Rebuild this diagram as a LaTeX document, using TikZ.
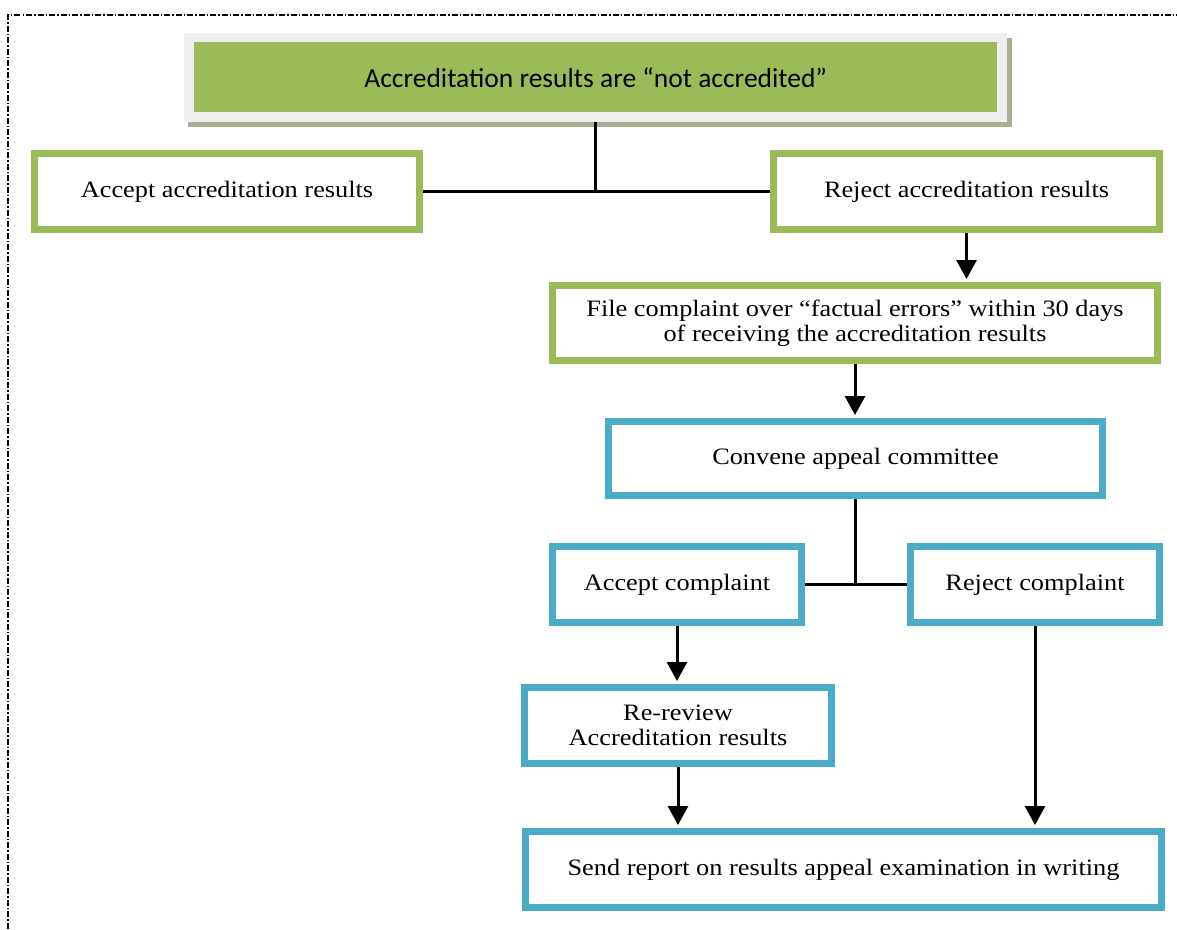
\documentclass[tikz,border=0pt]{standalone}
\usepackage{fontspec}
\setmainfont{Liberation Serif}[FakeStretch=1.12]
\newfontfamily\titlefont{Carlito}
\usetikzlibrary{arrows.meta,calc}
\definecolor{greenbox}{HTML}{9BBB59}
\definecolor{bluebox}{HTML}{4BACC6}
\definecolor{topframe}{HTML}{EFEFEF}
\definecolor{topshadow}{HTML}{A9AF93}
\tikzset{
  gbox/.style={draw=greenbox, line width=7pt, fill=white, align=center, inner sep=0pt,
    font=\fontsize{23.5}{25}\selectfont},
  bbox/.style={draw=bluebox, line width=7pt, fill=white, align=center, inner sep=0pt,
    font=\fontsize{23.5}{25}\selectfont},
  conn/.style={line width=3pt, black},
  arr/.style={conn, -{Triangle[width=20pt,length=19pt]}, shorten >=3pt},
}
\begin{document}
\begin{tikzpicture}[x=1pt,y=-1pt]
\useasboundingbox (0,0) rectangle (1177,929);
% page frame
\draw[line width=1.3pt, dash pattern=on 6pt off 2pt on 1.5pt off 2pt] (8,940) |- (1190,15);

% title box with light frame and shadow
\fill[topshadow] (188,38) rectangle (1012,127);
\node[fill=greenbox, draw=topframe, line width=9.5pt, minimum width=813pt, minimum height=79.5pt,
      inner sep=0pt, font=\titlefont\fontsize{27.5}{30}\selectfont] (top) at (595.7,77.3)
      {Accreditation results are “not accredited”};

% decision boxes
\node[gbox, minimum width=385pt, minimum height=76pt] (acc) at (227,191.5) {Accept accreditation results};
\node[gbox, minimum width=386pt, minimum height=76pt] (rej) at (966.5,191.5) {Reject accreditation results};
\node[gbox, minimum width=605pt, minimum height=75pt] (file) at (855,323)
  {File complaint over “factual errors” within 30 days\\of receiving the accreditation results};

% appeal stage
\node[bbox, minimum width=494pt, minimum height=74pt] (conv) at (855.5,458.5) {Convene appeal committee};
\node[bbox, minimum width=249pt, minimum height=76pt] (accc) at (677,584.5) {Accept complaint};
\node[bbox, minimum width=249pt, minimum height=76pt] (rejc) at (1035,584.5) {Reject complaint};
\node[bbox, minimum width=307pt, minimum height=76pt] (rerev) at (678,725.5) {Re-review\\Accreditation results};
\node[bbox, minimum width=636pt, minimum height=76pt] (send) at (843.5,869.5)
  {Send report on results appeal examination in writing};

% connectors
\draw[conn] (top.south) -- (top.south |- acc.east);
\draw[conn] (acc.east) -- (rej.west);
\draw[arr] (rej.south) -- (rej.south |- file.north);
\draw[arr] (file.south) -- (file.south |- conv.north);
\draw[conn] (conv.south) -- (conv.south |- accc.east);
\draw[conn] (accc.east) -- (rejc.west);
\draw[arr] (accc.south) -- (accc.south |- rerev.north);
\draw[arr] (rerev.south) -- (rerev.south |- send.north);
\draw[arr] (rejc.south) -- (rejc.south |- send.north);
\end{tikzpicture}
\end{document}
